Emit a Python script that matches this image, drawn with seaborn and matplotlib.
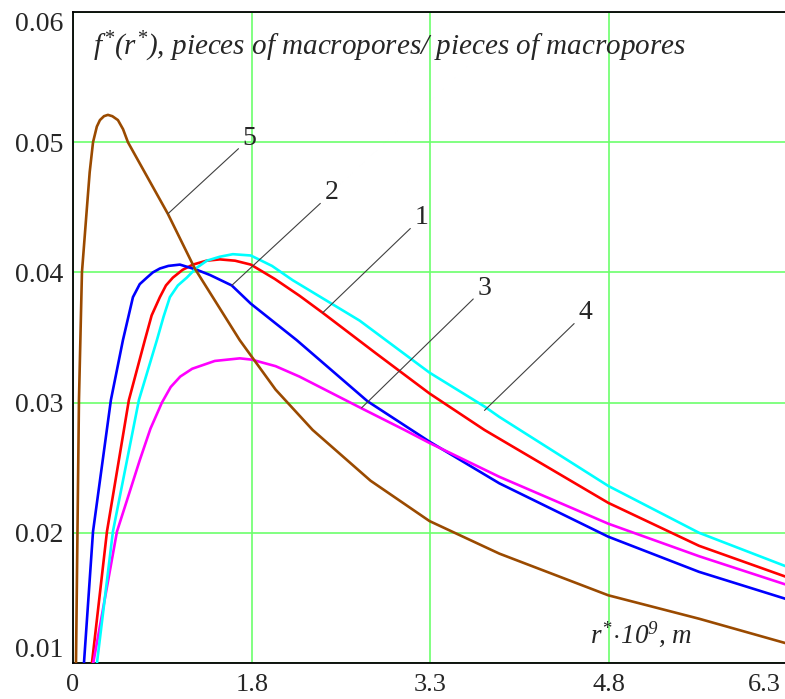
import matplotlib
matplotlib.use('Agg')
import matplotlib.pyplot as plt
import matplotlib.transforms as mtransforms
import pandas as pd
import seaborn as sns

# curve values (r*.10^9 in m, f*(r*))
x1 = [0.459, 0.585, 0.769, 0.903, 0.96, 1.029, 1.08, 1.138, 1.22, 1.306, 1.42, 1.532, 1.66, 1.792, 1.993, 2.202, 2.395, 2.84, 3.292, 3.753, 4.792, 5.554, 6.29]
y1 = [0.0100, 0.0201, 0.0302, 0.0348, 0.0367, 0.0381, 0.0390, 0.0396, 0.0402, 0.0406, 0.0409, 0.0410, 0.0409, 0.0406, 0.0395, 0.0382, 0.0369, 0.0338, 0.0307, 0.0279, 0.0223, 0.0190, 0.0166]

x2 = [0.392, 0.468, 0.618, 0.719, 0.803, 0.86, 0.92, 0.97, 1.029, 1.1, 1.197, 1.339, 1.45, 1.632, 1.792, 2.177, 2.772, 3.141, 3.292, 3.878, 4.792, 5.554, 6.29]
y2 = [0.0100, 0.0201, 0.0302, 0.0348, 0.0381, 0.0391, 0.0396, 0.0400, 0.0403, 0.0405, 0.0406, 0.0402, 0.0398, 0.0390, 0.0376, 0.0348, 0.0301, 0.0279, 0.0270, 0.0238, 0.0197, 0.0170, 0.0149]

x3 = [0.47, 0.669, 0.753, 0.861, 0.95, 1.046, 1.12, 1.2, 1.3, 1.49, 1.7, 1.8, 2.0, 2.2, 2.713, 3.082, 3.292, 3.878, 4.792, 5.554, 6.29]
y3 = [0.0100, 0.0201, 0.0225, 0.0256, 0.0280, 0.0300, 0.0312, 0.0320, 0.0326, 0.0332, 0.0334, 0.0333, 0.0328, 0.0320, 0.0296, 0.0279, 0.0269, 0.0243, 0.0207, 0.0182, 0.0160]

x4 = [0.501, 0.635, 0.853, 1.004, 1.06, 1.113, 1.18, 1.255, 1.33, 1.423, 1.53, 1.641, 1.792, 1.97, 2.144, 2.705, 3.292, 3.753, 3.878, 4.792, 5.554, 6.29]
y4 = [0.0100, 0.0201, 0.0302, 0.0348, 0.0366, 0.0381, 0.0390, 0.0396, 0.0403, 0.0409, 0.0412, 0.0414, 0.0413, 0.0405, 0.0394, 0.0363, 0.0323, 0.0297, 0.0289, 0.0236, 0.0200, 0.0174]

x5 = [0.325, 0.35, 0.375, 0.417, 0.44, 0.468, 0.50, 0.526, 0.56, 0.593, 0.63, 0.677, 0.72, 0.761, 1.096, 1.322, 1.699, 2.0, 2.311, 2.797, 3.292, 3.878, 4.792, 5.554, 6.29]
y5 = [0.0100, 0.0302, 0.0400, 0.0450, 0.0477, 0.0500, 0.0512, 0.0517, 0.0520, 0.0521, 0.0520, 0.0517, 0.0510, 0.0500, 0.0445, 0.0403, 0.0348, 0.0310, 0.0279, 0.0240, 0.0209, 0.0184, 0.0152, 0.0134, 0.0115]

curve_names = ['1', '2', '3', '4', '5']
curve_colors = ['#FF0000', '#0000FF', '#FF00FF', '#00FFFF', '#9A4A00']

# curve labels: (text position, point on curve)
label_text_pos = [(3.225, 0.0442), (2.47, 0.0461), (3.753, 0.0388), (4.599, 0.0369), (1.783, 0.0503)]
label_curve_pos = [(2.395, 0.0369), (1.632, 0.0390), (2.722, 0.0296), (3.753, 0.0294), (1.096, 0.0445)]

xticks = [0.3, 1.8, 3.3, 4.8, 6.3]
xtick_labels = ['0', '1.8', '3.3', '4.8', '6.3']
yticks = [0.01, 0.02, 0.03, 0.04, 0.05, 0.06]
ytick_labels = ['0.01', '0.02', '0.03', '0.04', '0.05', '0.06']

sns.set_style('white')
plt.rcParams['font.family'] = ['Liberation Serif', 'DejaVu Serif']
plt.rcParams['mathtext.fontset'] = 'custom'
plt.rcParams['mathtext.rm'] = 'Liberation Serif:italic'
plt.rcParams['mathtext.it'] = 'Liberation Serif:italic'

frames = []
for name, xs, ys in zip(curve_names, [x1, x2, x3, x4, x5], [y1, y2, y3, y4, y5]):
    frames.append(pd.DataFrame({'r': xs, 'f': ys, 'curve': name}))
df = pd.concat(frames, ignore_index=True)

fig = plt.figure(figsize=(7.85, 6.99), dpi=100)
ax = fig.add_axes([0.093, 0.0515, 0.9108, 0.9313])

sns.lineplot(data=df, x='r', y='f', hue='curve', palette=dict(zip(curve_names, curve_colors)),
             sort=False, estimator=None, linewidth=1.9, legend=False, ax=ax, zorder=3)

ax.set_xlim(0.3, 6.3)
ax.set_ylim(0.01, 0.06)
ax.set_xticks(xticks)
ax.set_xticklabels(xtick_labels, fontsize=19)
ax.set_yticks(yticks)
ax.set_yticklabels(ytick_labels, fontsize=20)
ax.tick_params(axis='both', length=0)
ax.tick_params(axis='x', pad=8)
ax.tick_params(axis='y', pad=7)
ax.get_yticklabels()[0].set_va('bottom')
ax.get_yticklabels()[-1].set_va('top')

# last x label sits inside the picture, like the original
last = ax.get_xticklabels()[-1]
last.set_ha('right')
last.set_transform(last.get_transform() + mtransforms.ScaledTranslation(-5 / 72, 0, fig.dpi_scale_trans))

ax.grid(True, color='#6CFF6C', linewidth=1.2, zorder=1)
ax.set_axisbelow(True)
for side in ['left', 'bottom', 'top']:
    ax.spines[side].set_color('black')
    ax.spines[side].set_linewidth(1.3)
ax.spines['right'].set_visible(False)

ax.set_xlabel('')
ax.set_ylabel('')

ax.text(0.028, 0.934, r'$f^{*}(r^{*})$, pieces of macropores/ pieces of macropores',
        transform=ax.transAxes, fontsize=21, style='italic', va='baseline', ha='left')
ax.text(0.723, 0.032, r'$r^{*}\!\cdot\!10^{9}$, m',
        transform=ax.transAxes, fontsize=19.5, style='italic', va='baseline', ha='left')

for name, tpos, cpos in zip(curve_names, label_text_pos, label_curve_pos):
    ax.annotate(name, xy=cpos, xytext=tpos, fontsize=20, ha='center', va='center',
                arrowprops=dict(arrowstyle='-', color='#404040', lw=0.8, shrinkA=1, shrinkB=0),
                zorder=4)

fig.savefig('out.png', dpi=100)
